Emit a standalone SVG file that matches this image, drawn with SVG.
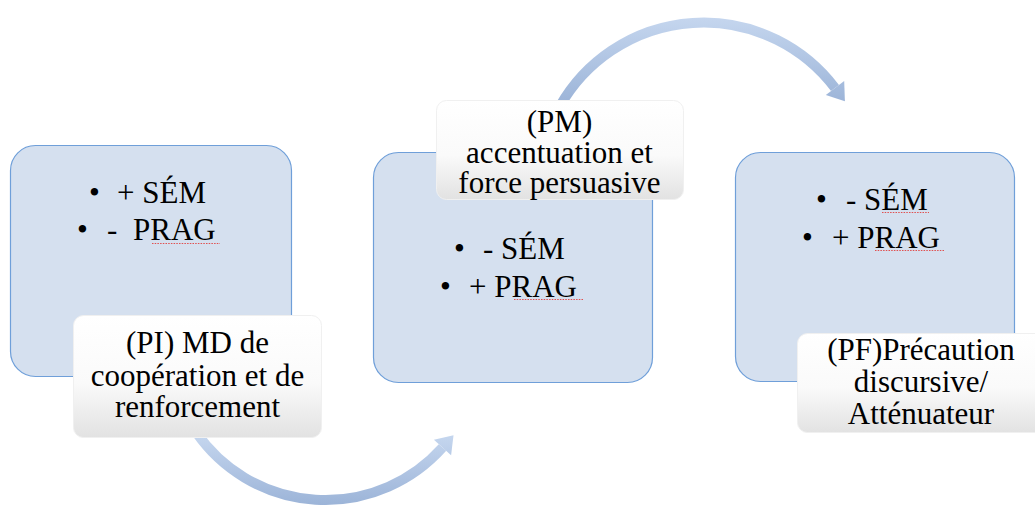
<svg xmlns="http://www.w3.org/2000/svg" width="1035" height="508" viewBox="0 0 1035 508">
<style>
.box{fill:#d5e0ef;stroke:#6f9fd9;stroke-width:1.2}
.lab{fill:url(#labg);stroke:#f0f0f0;stroke-width:1}
text{font-family:'Liberation Serif','Times New Roman',serif;font-size:31px;fill:#000}
.c{text-anchor:middle}
.sp{fill:none;stroke:#e05050;stroke-width:1.1;stroke-dasharray:1.5 1.2}
.shaft{fill:none;stroke-width:10;stroke-linecap:butt}
</style>
<defs>
<linearGradient id="labg" x1="0" y1="0" x2="0" y2="1">
<stop offset="0" stop-color="#ffffff"/>
<stop offset="0.55" stop-color="#fafafa"/>
<stop offset="1" stop-color="#e2e2e2"/>
</linearGradient>
<linearGradient id="ag1" gradientUnits="userSpaceOnUse" x1="0" y1="15" x2="0" y2="103">
<stop offset="0" stop-color="#c6d7ef"/>
<stop offset="1" stop-color="#9cb4d8"/>
</linearGradient>
<linearGradient id="ag2" gradientUnits="userSpaceOnUse" x1="0" y1="433" x2="0" y2="505">
<stop offset="0" stop-color="#c6d7ef"/>
<stop offset="1" stop-color="#9cb4d8"/>
</linearGradient>
</defs>

<g id="connectors">
<path class="shaft" stroke="url(#ag1)" d="M 560 106 A 165 165 0 0 1 835 88"/>
<polygon fill="url(#ag1)" points="844.2,81.1 825.8,94.9 844.9,101.2"/>
<path class="shaft" stroke="url(#ag2)" d="M 196 432 A 157 157 0 0 0 442.5 447.5"/>
<polygon fill="url(#ag2)" points="451.1,455.2 433.9,439.8 453.5,435.2"/>
</g>

<g id="node1">
<rect class="box" x="10.5" y="145.5" width="281" height="231" rx="25"/>
<text y="203"><tspan x="89">•</tspan><tspan x="117">+ SÉM</tspan></text>
<text y="240"><tspan x="77">•</tspan><tspan x="107">-</tspan><tspan x="133">PRAG</tspan></text>
<path class="sp" d="M152 243.5 L220 243.5"/>
</g>

<g id="node2">
<rect class="box" x="373.5" y="152.5" width="279" height="230" rx="25"/>
<text y="259"><tspan x="454">•</tspan><tspan x="483">- SÉM</tspan></text>
<text y="297"><tspan x="440">•</tspan><tspan x="469">+ PRAG</tspan></text>
<path class="sp" d="M514 299.5 L583 299.5"/>
</g>

<g id="node3">
<rect class="box" x="735.5" y="152.5" width="279" height="229" rx="25"/>
<text y="210"><tspan x="816">•</tspan><tspan x="846">- SÉM</tspan></text>
<text y="248"><tspan x="802">•</tspan><tspan x="832">+ PRAG</tspan></text>
<path class="sp" d="M882 212.5 L929 212.5"/>
<path class="sp" d="M875 250.5 L945 250.5"/>
</g>

<g id="label1">
<rect class="lab" x="73.5" y="315.5" width="248" height="122" rx="10"/>
<text class="c" x="197.5" y="353">(PI) MD de</text>
<text class="c" x="197.5" y="386">coopération et de</text>
<text class="c" x="197.5" y="417">renforcement</text>
</g>

<g id="label2">
<rect class="lab" x="436.5" y="100.5" width="247" height="99" rx="10"/>
<text class="c" x="559.5" y="132">(PM)</text>
<text class="c" x="559.5" y="163">accentuation et</text>
<text class="c" x="559.5" y="193">force persuasive</text>
</g>

<g id="label3">
<rect class="lab" x="797.5" y="333.5" width="248" height="99" rx="10"/>
<text class="c" x="921" y="360">(PF)Précaution</text>
<text class="c" x="921" y="392">discursive/</text>
<text class="c" x="921" y="424">Atténuateur</text>
</g>
</svg>
